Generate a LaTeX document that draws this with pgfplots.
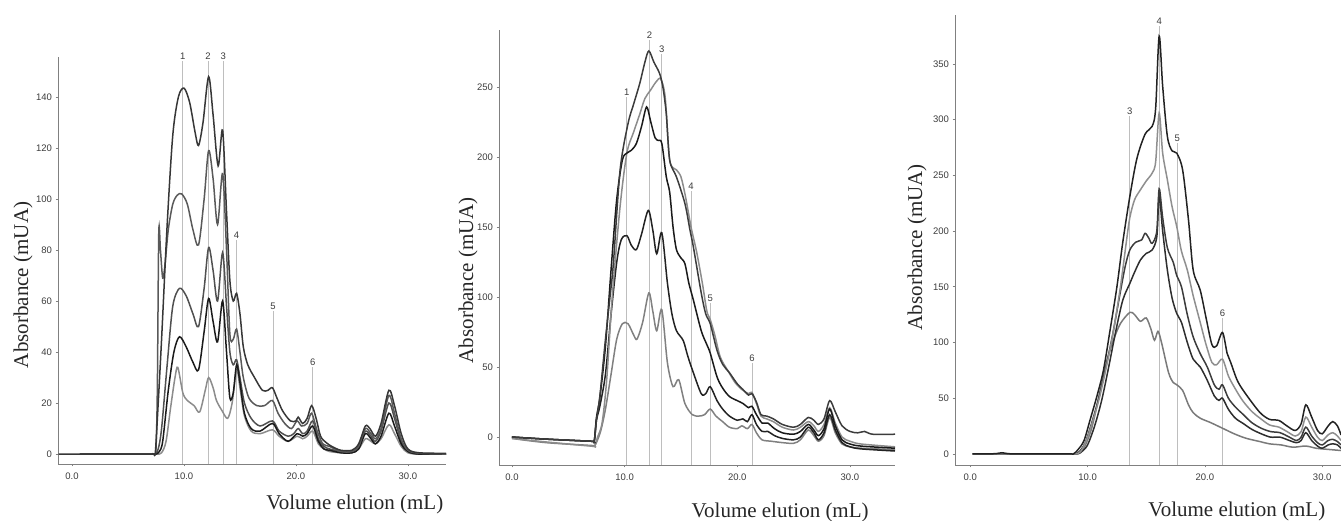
\documentclass[border=0pt]{standalone}
\usepackage{pgfplots}
\pgfplotsset{compat=1.18}
\usepackage{fontspec}
\setmainfont{Liberation Serif}
\setsansfont{Liberation Sans}

\definecolor{axgray}{HTML}{808080}
\definecolor{tickgray}{HTML}{3C3C3C}
\definecolor{mkgray}{HTML}{BEBEBE}

\tikzset{lbl/.style={anchor=south, inner sep=1pt, font=\sffamily\fontsize{9.5}{9.5}\selectfont, text=tickgray}}
\pgfplotsset{
  chrom/.style={
    scale only axis,
    clip=false,
    axis lines=left,
    axis line style={-, draw=axgray, line width=0.9pt},
    tick align=outside,
    major tick length=2.5pt,
    tick style={draw=axgray, line width=0.6pt},
    xtick={0,10,20,30},
    xticklabels={0.0,10.0,20.0,30.0},
    /pgf/number format/assume math mode=true,
    ticklabel style={font=\sffamily\fontsize{9.5}{10}\selectfont, text=tickgray},
    xticklabel style={yshift=-2.5pt},
    label style={font=\fontsize{21}{21}\selectfont, text=black!85},
    xlabel={Volume elution (mL)},
    ylabel={Absorbance (mUA)},
    every axis plot/.append style={smooth, tension=0.5, line width=1.5pt},
  },
  mk/.style={sharp plot, draw=mkgray, line width=0.8pt},
}

\begin{document}
\begin{tikzpicture}
\useasboundingbox (0,0) rectangle (1341pt,521pt);

% ---------------- panel 1 ----------------
\begin{axis}[chrom, at={(58pt,57pt)}, anchor=south west,
  width=388pt, height=407pt,
  xmin=-1.25, xmax=33.4, ymin=-3.9, ymax=155.7,
  ytick={0,20,...,140},
  xlabel style={at={(axis description cs:0.765,-0.10)}, anchor=center},
  ylabel style={at={(axis description cs:-0.090,0.44)}, anchor=center}]
\addplot[mk] coordinates {(9.9,-3.9) (9.9,154)} node[pos=1,lbl] {1};
\addplot[mk] coordinates {(12.15,-3.9) (12.15,154)} node[pos=1,lbl] {2};
\addplot[mk] coordinates {(13.5,-3.9) (13.5,154)} node[pos=1,lbl] {3};
\addplot[mk] coordinates {(14.7,-3.9) (14.7,84)} node[pos=1,lbl] {4};
\addplot[mk] coordinates {(17.95,-3.9) (17.95,56)} node[pos=1,lbl] {5};
\addplot[mk] coordinates {(21.5,-3.9) (21.5,34)} node[pos=1,lbl] {6};
% lightest
\addplot[color={rgb,255:red,140;green,140;blue,140}] coordinates {
(0.7,0)(4,0)(7,0)(7.6,0)(8.0,0.5)(8.4,5)(8.8,18)(9.2,30)(9.45,34)(9.9,24)(10.3,21)(10.9,19)(11.4,16.5)(11.9,25)(12.2,30)(12.6,26)(12.9,21)(13.4,17)(13.9,14)(14.3,20)(14.7,33)(15.0,26)(15.4,15)(16.0,9)(16.8,8)(17.9,9.5)(18.5,7)(19.3,5)(20.1,7)(20.6,6)(21.0,7)(21.5,9)(22.0,4)(22.5,2)(23.0,1)(24.0,0.5)(25.0,0.5)(25.6,2)(26.2,6)(26.7,5)(27.1,4)(27.6,6)(28.3,11.5)(28.8,8)(29.4,3)(30.0,0.5)(31.0,0)(33.4,0)};
\addplot[color={rgb,255:red,80;green,80;blue,80}] coordinates {
(0.7,0)(4,0)(7,0)(7.4,0)(7.7,2)(8.0,10)(8.5,35)(9.0,58)(9.6,65)(10.2,62)(10.8,55)(11.3,50)(11.8,65)(12.2,81)(12.6,72)(13.0,60)(13.45,79)(13.8,58)(14.1,40)(14.4,35)(14.7,37)(15.0,30)(15.4,20)(16.0,14)(16.8,11)(17.9,13)(18.5,9)(19.3,7)(19.8,8)(20.2,10)(20.6,8)(21.0,9)(21.5,13)(22.0,6)(22.5,3)(23.0,2)(24.0,1)(25.0,1)(25.6,3)(26.2,9)(26.7,7)(27.1,5)(27.6,9)(28.3,20)(28.8,14)(29.4,5)(30.0,1)(31.0,0)(33.4,0)};
\addplot[color={rgb,255:red,26;green,26;blue,26}] coordinates {
(0.7,0)(4,0)(7,0)(7.5,0)(7.8,1)(8.1,5)(8.6,25)(9.1,40)(9.6,46)(10.2,42)(10.8,36)(11.3,33)(11.8,48)(12.2,61)(12.6,52)(13.0,44)(13.45,60)(13.8,40)(14.1,22)(14.4,24)(14.7,35)(15.0,28)(15.4,16)(16.0,10)(16.8,9)(17.9,12)(18.5,8)(19.3,5)(20.1,8)(20.6,7)(21.0,8)(21.5,11)(22.0,5)(22.5,2)(23.0,1.5)(24.0,0.5)(25.0,0.5)(25.6,2)(26.2,8)(26.7,6)(27.1,4)(27.6,7)(28.3,16)(28.8,11)(29.4,4)(30.0,1)(31.0,0)(33.4,0)};
\addplot[color={rgb,255:red,89;green,89;blue,89}] coordinates {
(0.7,0)(4,0)(7,0)(7.35,0)(7.5,2)(7.62,25)(7.75,87)(7.9,80)(8.1,69)(8.3,74)(8.6,88)(9.0,98)(9.4,101.5)(9.8,102)(10.3,98)(10.8,88)(11.3,82)(11.8,100)(12.2,119)(12.6,108)(13.0,90)(13.45,110)(13.8,80)(14.1,47)(14.4,45)(14.7,49)(15.0,40)(15.3,30)(15.8,22)(16.5,19)(17.2,19)(17.9,21)(18.4,16)(19.0,12)(19.6,10)(20.1,13)(20.5,11)(21.0,12)(21.4,16)(21.9,9)(22.4,4)(23.0,3)(24.0,1)(25.0,1)(25.6,3)(26.2,10)(26.7,8)(27.1,6)(27.6,10)(28.3,23)(28.8,16)(29.4,6)(30.0,1.5)(31.0,0.3)(33.4,0)};
\addplot[color={rgb,255:red,55;green,55;blue,55}] coordinates {
(-1.2,0)(3,0)(7,0)(7.3,0)(7.45,1)(7.7,20)(8.0,45)(8.5,90)(9.0,125)(9.5,140)(10.0,143.5)(10.5,138)(11.0,126)(11.3,121)(11.7,130)(12.2,148)(12.6,133)(13.05,113)(13.45,127)(13.8,95)(14.1,68)(14.4,60)(14.7,63)(15.0,55)(15.3,42)(15.7,35)(16.3,30)(17.0,25)(17.5,25)(17.9,26)(18.3,22)(18.8,17)(19.5,13)(20.0,13)(20.2,14.5)(20.6,12)(21.0,14)(21.4,19)(21.8,14)(22.2,7)(22.7,4.5)(23.2,3)(24.0,1.5)(25.0,1.5)(25.6,4)(26.2,11)(26.6,10)(27.1,7)(27.6,12)(28.3,25)(28.8,19)(29.4,8)(30.0,2)(31.0,0.5)(33.4,0.3)};
\end{axis}

% ---------------- panel 2 ----------------
\begin{axis}[chrom, at={(499pt,56pt)}, anchor=south west,
  width=396pt, height=435pt,
  xmin=-1.15, xmax=34.0, ymin=-20, ymax=291,
  ytick={0,50,...,250},
  xlabel style={at={(axis description cs:0.71,-0.11)}, anchor=center},
  ylabel style={at={(axis description cs:-0.078,0.425)}, anchor=center}]
\addplot[mk] coordinates {(10.2,-20) (10.2,243)} node[pos=1,lbl] {1};
\addplot[mk] coordinates {(12.2,-20) (12.2,284)} node[pos=1,lbl] {2};
\addplot[mk] coordinates {(13.3,-20) (13.3,274)} node[pos=1,lbl] {3};
\addplot[mk] coordinates {(15.9,-20) (15.9,176)} node[pos=1,lbl] {4};
\addplot[mk] coordinates {(17.6,-20) (17.6,96)} node[pos=1,lbl] {5};
\addplot[mk] coordinates {(21.3,-20) (21.3,53)} node[pos=1,lbl] {6};
% lightest
\addplot[color={rgb,255:red,128;green,128;blue,128}] coordinates {
(0,-1)(3,-4)(7.0,-6)(7.35,-6)(7.6,-2)(7.9,5)(8.3,20)(8.8,45)(9.3,70)(9.8,81)(10.3,81)(10.8,73)(11.1,70)(11.6,82)(12.15,103)(12.5,90)(12.85,76)(13.3,91)(13.8,53)(14.3,36)(14.8,41)(15.35,24)(16.0,16)(16.6,15)(17.1,16)(17.6,20)(18.1,15)(18.7,11)(19.3,7)(20.0,6)(20.4,8)(20.9,6)(21.3,9)(21.7,3)(22.2,-2)(23.0,-3)(24.0,-4)(25.0,-4.5)(25.6,-2)(26.3,5)(26.8,1)(27.2,-3)(27.7,1)(28.2,14)(28.7,3)(29.3,-5)(30.0,-7)(31.0,-8)(34.0,-9)};
\addplot[color={rgb,255:red,34;green,34;blue,34}] coordinates {
(0,0)(3,-1.5)(7.0,-3)(7.3,-3)(7.5,12)(7.8,22)(8.3,45)(8.8,88)(9.3,125)(9.7,141)(10.2,144)(10.6,137)(11.05,134)(11.5,145)(12.1,162)(12.5,148)(12.85,131)(13.3,146)(13.8,110)(14.2,88)(14.6,76)(15.2,69)(15.6,58)(16.1,46)(16.8,31)(17.2,31)(17.6,36)(18.2,26)(18.7,20)(19.3,15)(20.0,12)(20.5,13)(20.9,11)(21.3,16)(21.7,9)(22.2,4)(22.7,4)(23.3,1)(24.0,-1)(25.0,-2)(25.6,0)(26.3,7)(26.8,3)(27.2,-2)(27.7,3)(28.2,16)(28.7,5)(29.3,-4)(30.0,-7)(31.0,-8.5)(34.0,-10)};
\addplot[color={rgb,255:red,140;green,140;blue,140}] coordinates {
(0,-1)(3,-3.5)(7.0,-6.5)(7.35,-6.5)(7.6,0)(8.0,10)(8.4,40)(8.9,100)(9.6,165)(10.2,203)(10.8,218)(11.35,231)(11.8,242)(12.3,248)(12.8,254)(13.2,256)(13.6,243)(14.0,198)(14.6,191)(15.0,186)(15.4,172)(15.9,150)(16.4,132)(16.9,110)(17.3,90)(17.6,84)(18.0,73)(18.5,57)(19.2,47)(19.8,39)(20.4,34)(21.0,31)(21.3,32)(21.7,24)(22.1,15)(22.6,13)(23.2,11)(24.0,7)(25.0,5)(25.6,7)(26.3,11)(26.8,8)(27.2,4)(27.7,9)(28.2,21)(28.7,10)(29.3,0)(30.0,-3)(31.0,-5)(34.0,-7)};
\addplot[color={rgb,255:red,26;green,26;blue,26}] coordinates {
(0,0)(3,-1.5)(7.0,-3)(7.3,-3)(7.5,14)(7.8,28)(8.3,65)(8.8,120)(9.3,170)(9.8,198)(10.2,203)(10.6,205)(11.05,210)(11.5,222)(11.95,236)(12.3,226)(12.7,214)(13.0,212)(13.3,210)(13.7,186)(14.0,175)(14.3,150)(14.6,134)(15.0,128)(15.35,124)(15.7,110)(16.1,98)(16.8,76)(17.3,66)(17.6,60)(18.2,43)(18.7,35)(19.3,29)(20.0,26)(20.5,24)(21.0,21)(21.3,22)(21.7,16)(22.2,10)(22.7,10)(23.3,6)(24.0,3)(25.0,2)(25.6,4)(26.3,9)(26.8,5)(27.2,1)(27.7,6)(28.2,20)(28.7,8)(29.3,-2)(30.0,-5)(31.0,-6.5)(34.0,-8)};
\addplot[color={rgb,255:red,60;green,60;blue,60}] coordinates {
(0,0)(3,-1.5)(7.0,-3)(7.3,-3)(7.5,12)(7.8,29)(8.3,70)(8.7,100)(9.0,124)(9.6,191)(10.3,224)(10.8,238)(11.35,253)(11.8,268)(12.15,276)(12.6,268)(13.1,260)(13.4,250)(13.7,231)(14.0,198)(14.6,186)(15.35,167)(15.8,148)(16.1,136)(16.8,103)(17.2,88)(17.6,81)(18.2,62)(18.7,52)(19.3,46)(20.0,38)(20.5,34)(21.0,30)(21.3,31)(21.7,25)(22.1,16)(22.6,15)(23.2,13)(24.0,9)(25.0,7)(25.6,9)(26.3,14)(26.8,12)(27.2,9)(27.7,13)(28.2,26)(28.7,18)(29.3,8)(30.0,4)(30.7,3)(31.3,4)(32.0,2)(34.0,2)};
\end{axis}

% ---------------- panel 3 ----------------
\begin{axis}[chrom, at={(955pt,56pt)}, anchor=south west,
  width=386pt, height=450pt,
  xmin=-1.3, xmax=31.6, ymin=-10, ymax=394,
  ytick={0,50,...,350},
  xlabel style={at={(axis description cs:0.73,-0.104)}, anchor=center},
  ylabel style={at={(axis description cs:-0.098,0.484)}, anchor=center}]
\addplot[mk] coordinates {(13.6,-10) (13.6,303)} node[pos=1,lbl] {3};
\addplot[mk] coordinates {(16.1,-10) (16.1,384)} node[pos=1,lbl] {4};
\addplot[mk] coordinates {(17.65,-10) (17.65,279)} node[pos=1,lbl] {5};
\addplot[mk] coordinates {(21.5,-10) (21.5,122)} node[pos=1,lbl] {6};
% lightest
\addplot[color={rgb,255:red,122;green,122;blue,122}] coordinates {
(0.2,0)(4,0)(8.5,0)(9.0,0)(9.4,1)(9.9,10)(10.4,25)(11.1,58)(11.6,82)(12.2,102)(12.8,117)(13.6,127)(14.0,125)(14.5,119)(15.0,122)(15.4,112)(15.7,102)(16.0,110)(16.3,100)(16.9,73)(17.3,64)(17.6,62)(18.1,57)(18.6,44)(19.0,37)(19.6,32)(20.5,28)(21.5,23)(22.5,18)(23.5,14)(24.7,11)(25.5,9)(26.5,8)(27.5,6)(28.6,7)(29.5,5)(30.5,4)(31.6,3)};
\addplot[color={rgb,255:red,46;green,46;blue,46}] coordinates {
(0.2,0)(4,0)(8.6,0)(9.1,0)(9.5,2)(10.0,8)(10.6,25)(11.2,48)(11.8,78)(12.4,110)(13.0,138)(13.6,153)(14.0,163)(14.5,174)(15.0,180)(15.5,183)(15.9,195)(16.1,232)(16.4,200)(16.8,165)(17.2,140)(17.6,126)(18.0,118)(18.5,100)(19.0,85)(19.6,78)(20.2,66)(20.8,52)(21.2,48)(21.5,50)(22.0,40)(22.6,32)(23.3,27)(24.0,22)(24.8,18)(25.6,15)(26.4,15)(27.2,12)(27.8,10)(28.2,12)(28.6,19)(29.1,12)(29.6,7)(30.0,5)(30.5,8)(30.9,9)(31.3,8)(31.6,5)};
\addplot[color={rgb,255:red,60;green,60;blue,60}] coordinates {
(0.2,0)(4,0)(8.4,0)(8.9,0)(9.3,2)(9.8,10)(10.3,26)(10.9,48)(11.5,75)(12.1,105)(12.7,140)(13.2,168)(13.6,183)(14.1,190)(14.6,192)(14.9,198)(15.2,194)(15.5,189)(15.9,200)(16.1,238)(16.4,212)(16.8,185)(17.3,172)(17.6,160)(18.0,150)(18.5,125)(19.0,105)(19.6,90)(20.2,78)(20.8,62)(21.2,58)(21.5,62)(22.0,50)(22.6,42)(23.3,35)(24.0,28)(24.8,23)(25.6,20)(26.4,19)(27.2,15)(27.8,12)(28.2,15)(28.6,24)(29.1,16)(29.6,10)(30.0,8)(30.5,12)(30.9,13)(31.3,11)(31.6,8)};
\addplot[color={rgb,255:red,143;green,143;blue,143}] coordinates {
(0.2,0)(4,0)(8.5,0)(9.0,0)(9.4,2)(9.9,12)(10.4,28)(11.0,50)(11.6,78)(12.2,110)(12.8,150)(13.3,190)(13.6,212)(14.0,228)(14.5,237)(15.0,245)(15.5,252)(15.8,262)(16.1,306)(16.4,270)(16.8,246)(17.2,222)(17.6,204)(18.0,182)(18.5,165)(19.0,142)(19.6,118)(20.1,98)(20.6,82)(21.0,80)(21.5,85)(22.0,70)(22.5,60)(23.2,48)(24.0,38)(24.7,32)(25.5,26)(26.3,24)(27.0,20)(27.7,16)(28.2,20)(28.6,33)(29.1,24)(29.6,15)(30.0,12)(30.5,17)(30.9,19)(31.3,16)(31.6,12)};
\addplot[color={rgb,255:red,34;green,34;blue,34}] coordinates {
(0.2,0)(1.5,0)(2.2,0.2)(2.7,1)(3.2,0.2)(4,0)(8.3,0)(8.8,0)(9.2,4)(9.7,12)(10.2,30)(10.8,52)(11.35,75)(11.9,110)(12.5,150)(13.0,190)(13.6,231)(14.2,265)(14.9,287)(15.5,294)(15.8,310)(16.1,375)(16.4,330)(16.8,285)(17.2,272)(17.6,270)(18.1,255)(18.6,210)(19.0,165)(19.6,147)(20.1,122)(20.6,98)(21.0,97)(21.5,109)(21.9,90)(22.2,82)(22.8,65)(23.6,52)(24.7,37)(25.5,31)(26.3,30)(27.0,25)(27.7,21)(28.2,27)(28.6,44)(29.1,33)(29.6,21)(30.0,18)(30.5,25)(30.9,29)(31.3,25)(31.6,17)};
\end{axis}
\end{tikzpicture}
\end{document}
